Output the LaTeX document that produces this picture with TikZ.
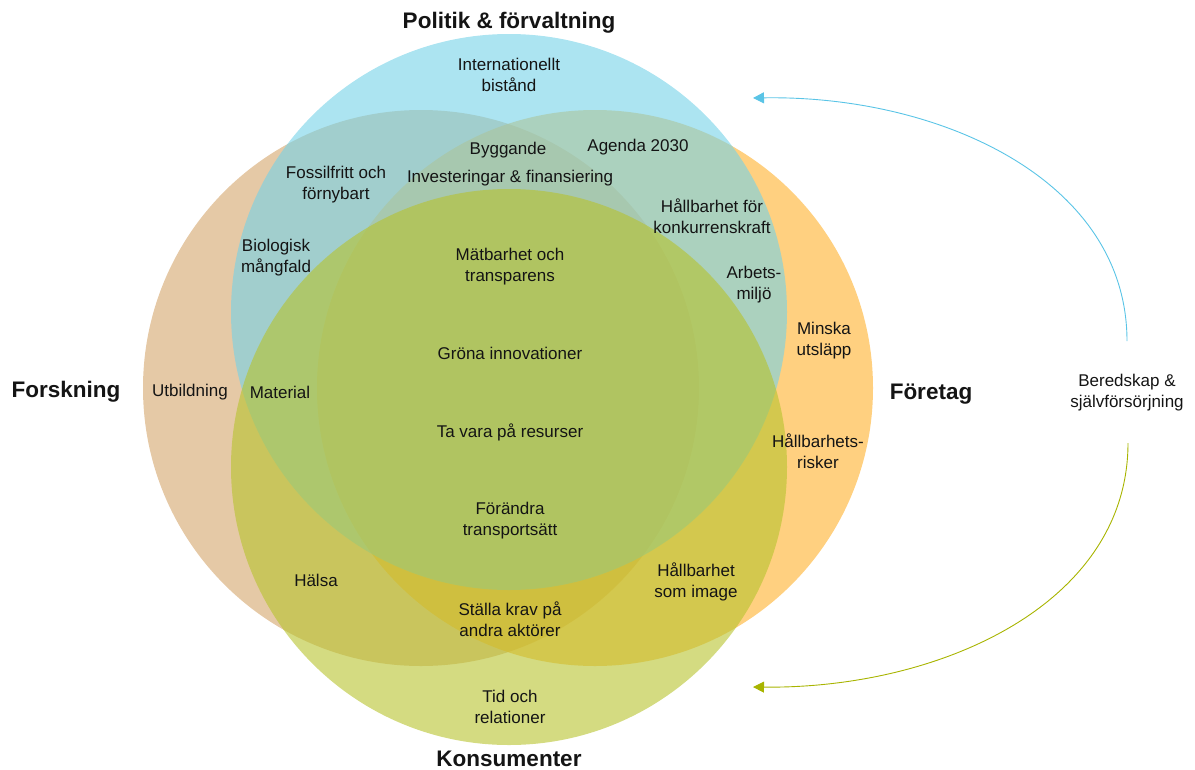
\documentclass[tikz,border=0pt]{standalone}
\usepackage{fontspec}
\setmainfont{Liberation Sans}
\usetikzlibrary{arrows.meta}
\definecolor{bluec}{RGB}{116,210,232}
\definecolor{tanc}{RGB}{212,165,107}
\definecolor{orangec}{RGB}{255,177,43}
\definecolor{greenc}{RGB}{183,195,45}
\definecolor{arrowblue}{RGB}{90,196,230}
\definecolor{arrowgreen}{RGB}{168,180,0}
\definecolor{txt}{RGB}{20,20,20}
\begin{document}
\begin{tikzpicture}[x=1pt,y=-1pt,
  lbl/.style={align=center, font=\fontsize{17}{21}\selectfont, text=txt, inner sep=0pt},
  ttl/.style={font=\fontsize{22.5}{26}\selectfont\bfseries, text=txt, inner sep=0pt},
  circ/.style={fill opacity=0.6, draw=none},
  link/.style={line width=0.9pt}]
\useasboundingbox (0,0) rectangle (1195,769);
% circles
\fill[circ, tanc] (421,388) circle [radius=278pt];
\fill[circ, orangec] (595,388) circle [radius=278pt];
\fill[circ, bluec] (509,312) circle [radius=278pt];
\fill[circ, greenc] (509,467) circle [radius=278pt];
% titles
\node[ttl] (pol) at (509,23) {Politik \& förvaltning};
\node[ttl] (fors) at (66,392) {Forskning};
\node[ttl] (for) at (931,394) {Företag};
\node[ttl] (kons) at (509,759) {Konsumenter};
% labels
\node[lbl] (intl) at (509,75) {Internationellt\\bistånd};
\node[lbl] (bygg) at (508,150) {Byggande};
\node[lbl] (agenda) at (638,147) {Agenda 2030};
\node[lbl] (inv) at (510,178) {Investeringar \& finansiering};
\node[lbl] (foss) at (336,185) {Fossilfritt och\\förnybart};
\node[lbl] (konk) at (712,216) {Hållbarhet för\\konkurrenskraft};
\node[lbl] (bio) at (276,258) {Biologisk\\mångfald};
\node[lbl] (mat) at (510,267) {Mätbarhet och\\transparens};
\node[lbl] (arb) at (754,285) {Arbets-\\miljö};
\node[lbl] (minska) at (824,341) {Minska\\utsläpp};
\node[lbl] (grona) at (510,353) {Gröna innovationer};
\node[lbl] (utb) at (190,392) {Utbildning};
\node[lbl] (material) at (280,392) {Material};
\node[lbl] (tavara) at (510,432) {Ta vara på resurser};
\node[lbl] (risker) at (818,451) {Hållbarhets-\\risker};
\node[lbl] (trans) at (510,521) {Förändra\\transportsätt};
\node[lbl] (halsa) at (316,580) {Hälsa};
\node[lbl] (image) at (696,582) {Hållbarhet\\som image};
\node[lbl] (krav) at (510,619) {Ställa krav på\\andra aktörer};
\node[lbl] (tid) at (510,707) {Tid och\\relationer};
\node[lbl] (bered) at (1127,393) {Beredskap \&\\självförsörjning};
% arrows
\coordinate (bs) at (1127,341);
\coordinate (bt) at (753,98);
\coordinate (gs) at (1128,443);
\coordinate (gt) at (753,687);
\draw[link, arrowblue, -{Triangle[length=11pt,width=11pt]}] (bs) .. controls (1127,180) and (940,95) .. (bt);
\draw[link, arrowgreen, -{Triangle[length=11pt,width=11pt]}] (gs) .. controls (1128,604) and (940,689) .. (gt);
\end{tikzpicture}
\end{document}
